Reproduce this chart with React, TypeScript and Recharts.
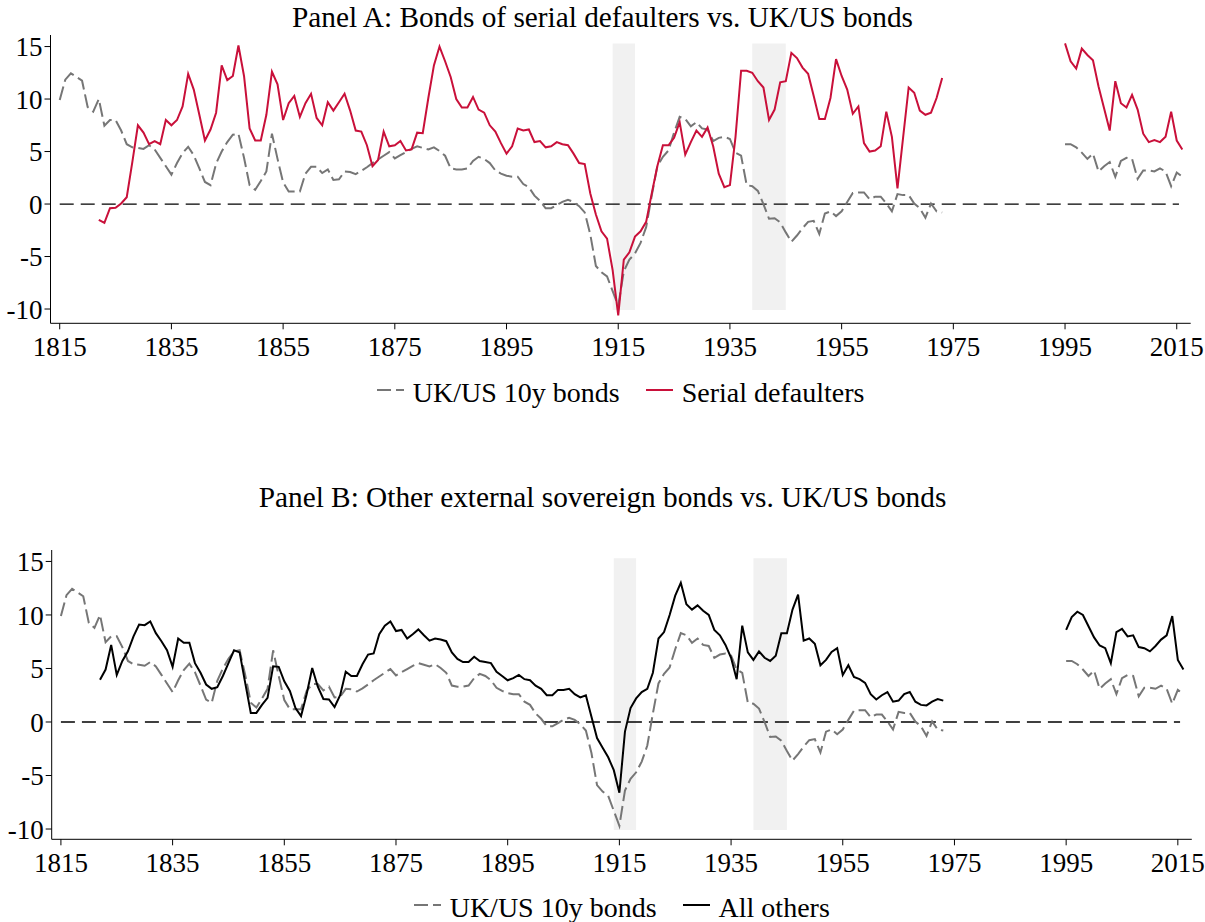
import React from "react";
import {
  LineChart,
  Line,
  XAxis,
  YAxis,
  ReferenceArea,
  ReferenceLine,
} from "recharts";

// years covered by the two data blocks (no data 1974-1994)
const UKUS_START = 1815;
const OTHERS_START = 1822;
const EARLY_END = 1973;
const RECENT_START = 1995;
const LAST_YEAR = 2016;

const yearTicks = [1815, 1835, 1855, 1875, 1895, 1915, 1935, 1955, 1975, 1995, 2015];
const spreadTicks = [-10, -5, 0, 5, 10, 15];

// war periods shaded grey
const warStarts = [1914, 1939];
const warEnds = [1918, 1945];

// UK/US 10y bonds, 1815-1973
const ukUsEarly = [
  9.9, 11.85, 12.45, 12.1, 11.75, 9.25, 8.8, 10.0, 7.45, 8.0,
  8.0, 7.0, 5.7, 5.4, 5.35, 5.25, 5.6, 5.2, 4.4, 3.6,
  2.8, 3.9, 4.85, 5.45, 4.65, 3.4, 2.1, 1.8, 3.85, 5.0,
  5.9, 6.6, 6.7, 4.4, 1.8, 1.35, 2.2, 3.1, 6.7, 4.3,
  2.05, 1.2, 1.2, 1.2, 2.9, 3.55, 3.55, 2.95, 3.3, 2.3,
  2.35, 3.1, 3.05, 2.85, 3.15, 3.5, 3.9, 4.25, 4.6, 4.95,
  4.35, 4.65, 4.95, 5.25, 5.5, 5.35, 5.2, 5.4, 5.05, 4.6,
  3.4, 3.3, 3.3, 3.4, 4.1, 4.5, 4.3, 3.9, 3.2, 2.9,
  2.7, 2.6, 2.6, 1.9, 1.6, 0.8, 0.3, -0.4, -0.4, -0.1,
  0.2, 0.4, 0.2, -0.2, -0.8, -2.9, -5.9, -6.5, -6.9, -8.3,
  -9.7, -6.4, -5.3, -4.7, -3.7, -2.2, 0.8, 3.6, 4.5, 5.1,
  6.8, 8.3, 8.1, 7.4, 7.8, 7.2, 7.1, 6.0, 6.3, 6.4,
  6.2, 4.9, 4.6, 1.8, 1.7, 1.25, 0.0, -1.4, -1.35, -1.75,
  -2.7, -3.6, -3.0, -2.3, -1.7, -1.6, -2.85, -0.9, -0.7, -1.15,
  -0.7, 0.2, 1.05, 1.1, 1.1, 0.45, 0.7, 0.7, 0.05, -0.7,
  0.95, 0.85, 0.85, 0.05, -0.4, -1.3, 0.05, -0.7, -0.8,
];
// UK/US 10y bonds, 1995-2016
const ukUsRecent = [
  5.7, 5.7, 5.4, 4.9, 4.3, 4.8, 3.1, 3.6, 4.0, 2.6, 4.1,
  4.4, 4.3, 2.4, 3.2, 3.2, 3.1, 3.4, 3.1, 1.7, 3.0, 2.6,
];

// serial defaulters, 1822-1973
const serialEarly = [
  -1.5, -1.8, -0.4, -0.35, 0.05, 0.65, 4.0, 7.5, 6.8, 5.7,
  6.0, 5.7, 8.0, 7.5, 8.0, 9.3, 12.4, 10.9, 8.5, 6.05,
  7.1, 8.7, 13.2, 11.8, 12.2, 15.1, 12.2, 7.2, 6.05, 6.05,
  8.5, 12.6, 11.4, 8.0, 9.6, 10.3, 8.3, 9.6, 10.5, 8.2,
  7.5, 9.7, 8.9, 9.7, 10.5, 8.9, 7.0, 6.9, 5.6, 3.6,
  4.2, 6.9, 5.5, 5.6, 6.0, 5.1, 5.2, 6.8, 6.75, 10.1,
  13.2, 15.0, 13.6, 12.1, 10.0, 9.2, 9.2, 10.2, 9.0, 8.7,
  7.5, 6.9, 5.8, 4.8, 5.5, 7.2, 7.0, 7.1, 5.9, 6.0,
  5.4, 5.5, 5.9, 5.7, 5.6, 4.8, 3.9, 3.8, 1.0, -1.0,
  -2.6, -3.3, -6.3, -10.6, -5.3, -4.6, -3.1, -2.6, -1.7, 1.0,
  3.6, 5.6, 5.6, 6.3, 7.8, 4.7, 5.9, 7.0, 6.4, 7.3,
  5.5, 2.9, 1.6, 1.8, 6.4, 12.7, 12.7, 12.5, 11.7, 11.1,
  8.0, 9.0, 11.6, 11.7, 14.4, 13.9, 13.0, 12.4, 10.3, 8.1,
  8.1, 10.1, 13.8, 12.2, 10.9, 8.6, 9.3, 5.8, 5.0, 5.1,
  5.5, 8.8, 6.4, 1.5, 6.3, 11.1, 10.6, 8.9, 8.5, 8.7,
  10.1, 12.0,
];
// serial defaulters, 1995-2016
const serialRecent = [
  15.3, 13.6, 12.9, 14.8, 14.2, 13.7, 11.2, 9.1, 7.0, 11.7, 9.6,
  9.2, 10.4, 9.0, 6.7, 5.9, 6.1, 5.9, 6.4, 8.8, 6.05, 5.2,
];

// all other external sovereign bonds, 1822-1973
const othersEarly = [
  3.95, 4.9, 7.2, 4.4, 5.7, 6.6, 8.0, 9.1, 9.05, 9.4,
  8.3, 7.55, 6.7, 5.15, 7.8, 7.4, 7.4, 5.5, 4.6, 3.5,
  3.1, 3.25, 4.3, 5.5, 6.7, 6.5, 3.65, 0.85, 0.85, 1.6,
  2.25, 5.2, 5.15, 3.8, 2.9, 1.3, 0.55, 2.6, 5.05, 3.3,
  2.15, 2.1, 1.4, 2.5, 4.7, 4.3, 4.3, 5.4, 6.3, 6.4,
  8.2, 9.0, 9.4, 8.5, 8.6, 7.8, 8.2, 8.65, 8.1, 7.6,
  7.8, 7.7, 7.55, 6.5, 5.9, 5.6, 5.6, 6.1, 5.7, 5.6,
  5.5, 4.7, 4.3, 3.9, 4.1, 4.4, 4.0, 3.9, 3.4, 3.1,
  2.5, 2.5, 3.0, 3.0, 3.1, 2.6, 2.3, 2.5, 0.5, -1.5,
  -2.4, -3.3, -4.5, -6.6, -0.9, 1.3, 2.2, 2.8, 3.1, 4.6,
  7.8, 8.4, 10.0, 11.8, 13.0, 11.0, 10.5, 10.9, 10.4, 10.0,
  8.6, 8.1, 7.2, 6.0, 4.0, 9.0, 6.5, 5.8, 6.6, 6.0,
  5.7, 6.2, 8.3, 8.3, 10.5, 11.9, 7.6, 7.8, 7.3, 5.3,
  5.8, 6.55, 6.9, 4.4, 5.3, 4.2, 4.0, 3.65, 2.6, 2.1,
  2.5, 2.8, 1.9, 2.0, 2.6, 2.8, 1.9, 1.6, 1.55, 1.9,
  2.15, 2.0,
];
// all other external sovereign bonds, 1995-2016
const othersRecent = [
  8.6, 9.8, 10.3, 10.0, 8.95, 7.9, 7.15, 6.9, 5.5, 8.4, 8.7,
  8.0, 8.1, 7.0, 6.9, 6.6, 7.1, 7.7, 8.1, 9.9, 5.8, 4.9,
];

function valueIn(early: number[], earlyStart: number, recent: number[], year: number) {
  if (year >= earlyStart && year <= EARLY_END) return early[year - earlyStart];
  if (year >= RECENT_START && year <= LAST_YEAR) return recent[year - RECENT_START];
  return null;
}

const rows: { year: number; ukUs: number | null; serial: number | null; others: number | null }[] = [];
for (let year = UKUS_START; year <= LAST_YEAR; year++) {
  rows.push({
    year,
    ukUs: valueIn(ukUsEarly, UKUS_START, ukUsRecent, year),
    serial: valueIn(serialEarly, OTHERS_START, serialRecent, year),
    others: valueIn(othersEarly, OTHERS_START, othersRecent, year),
  });
}

const FONT = '"Times New Roman", "Liberation Serif", serif';
const GREY = "#767676";
const RED = "#c9103a";
const SHADE = "#f1f1f1";
const X_DOMAIN: [number, number] = [1813.35, 2017.5];
const X_AXIS_HEIGHT = 44;

interface PanelProps {
  top: number;
  height: number;
  axisWidth: number;
  rightGap: number;
  plotBottom: number;
  yDomain: [number, number];
  title: string;
  titleTop: number;
  legendTop: number;
  seriesKey: "serial" | "others";
  seriesName: string;
  seriesColor: string;
}

function LegendItem({ color, dashed, label }: { color: string; dashed?: boolean; label: string }) {
  return (
    <div style={{ display: "flex", alignItems: "center" }}>
      <svg width={27} height={10} style={{ marginRight: 9, marginTop: -6 }}>
        <line
          x1={0}
          x2={27}
          y1={5}
          y2={5}
          stroke={color}
          strokeWidth={2}
          strokeDasharray={dashed ? "14 5" : undefined}
        />
      </svg>
      <span>{label}</span>
    </div>
  );
}

function Panel(p: PanelProps) {
  const plotLeft = p.axisWidth;
  const plotWidth = 1205 - p.axisWidth - p.rightGap;
  const bottomMargin = p.height - p.plotBottom - X_AXIS_HEIGHT;
  return (
    <>
      <div
        style={{
          position: "absolute",
          top: p.titleTop,
          left: 0,
          width: 1205,
          textAlign: "center",
          fontFamily: FONT,
          fontSize: 29.3,
          lineHeight: "32px",
          color: "#000",
        }}
      >
        {p.title}
      </div>
      <div style={{ position: "absolute", top: p.top, left: 0 }}>
        <LineChart
          width={1205}
          height={p.height}
          data={rows}
          margin={{ top: 35, right: p.rightGap, left: 0, bottom: bottomMargin }}
        >
          {warStarts.map((start, i) => (
            <ReferenceArea
              key={start}
              x1={start}
              x2={warEnds[i]}
              y1={-10.1}
              y2={15.3}
              fill={SHADE}
              fillOpacity={1}
              stroke="none"
            />
          ))}
          <XAxis
            type="number"
            dataKey="year"
            domain={X_DOMAIN}
            ticks={yearTicks}
            allowDataOverflow
            height={X_AXIS_HEIGHT}
            stroke="#000"
            tickSize={6}
            tickMargin={8}
            tick={{ fontSize: 27, fontFamily: FONT, fill: "#000" }}
          />
          <YAxis
            type="number"
            domain={p.yDomain}
            ticks={spreadTicks}
            allowDataOverflow
            width={p.axisWidth}
            stroke="#000"
            tickSize={6}
            tickMargin={2}
            tick={{ fontSize: 27, fontFamily: FONT, fill: "#000" }}
          />
          <ReferenceLine
            segment={[
              { x: 1815, y: 0 },
              { x: 2015.4, y: 0 },
            ]}
            stroke="#000"
            strokeWidth={1.3}
            strokeDasharray="14 7"
          />
          <Line
            type="linear"
            dataKey="ukUs"
            stroke={GREY}
            strokeWidth={2}
            strokeDasharray="14 5"
            dot={false}
            isAnimationActive={false}
          />
          <Line
            type="linear"
            dataKey={p.seriesKey}
            stroke={p.seriesColor}
            strokeWidth={2}
            dot={false}
            isAnimationActive={false}
          />
        </LineChart>
      </div>
      <div
        style={{
          position: "absolute",
          top: p.legendTop,
          left: plotLeft,
          width: plotWidth,
          display: "flex",
          justifyContent: "center",
          gap: 26,
          fontFamily: FONT,
          fontSize: 28,
          lineHeight: "30px",
          color: "#000",
        }}
      >
        <LegendItem color={GREY} dashed label="UK/US 10y bonds" />
        <LegendItem color={p.seriesColor} label={p.seriesName} />
      </div>
    </>
  );
}

export default function App() {
  return (
    <div
      style={{
        position: "absolute",
        left: 0,
        top: 0,
        width: 1205,
        height: 922,
        background: "#fff",
        overflow: "hidden",
      }}
    >
      <Panel
        top={0}
        height={368}
        axisWidth={50.5}
        rightGap={14.3}
        plotBottom={323.3}
        yDomain={[-11.36, 16.1]}
        title="Panel A: Bonds of serial defaulters vs. UK/US bonds"
        titleTop={1}
        legendTop={378}
        seriesKey="serial"
        seriesName="Serial defaulters"
        seriesColor={RED}
      />
      <Panel
        top={515}
        height={370}
        axisWidth={51.7}
        rightGap={13.2}
        plotBottom={324.3}
        yDomain={[-10.96, 16.07]}
        title="Panel B: Other external sovereign bonds vs. UK/US bonds"
        titleTop={481}
        legendTop={893}
        seriesKey="others"
        seriesName="All others"
        seriesColor="#000"
      />
    </div>
  );
}
